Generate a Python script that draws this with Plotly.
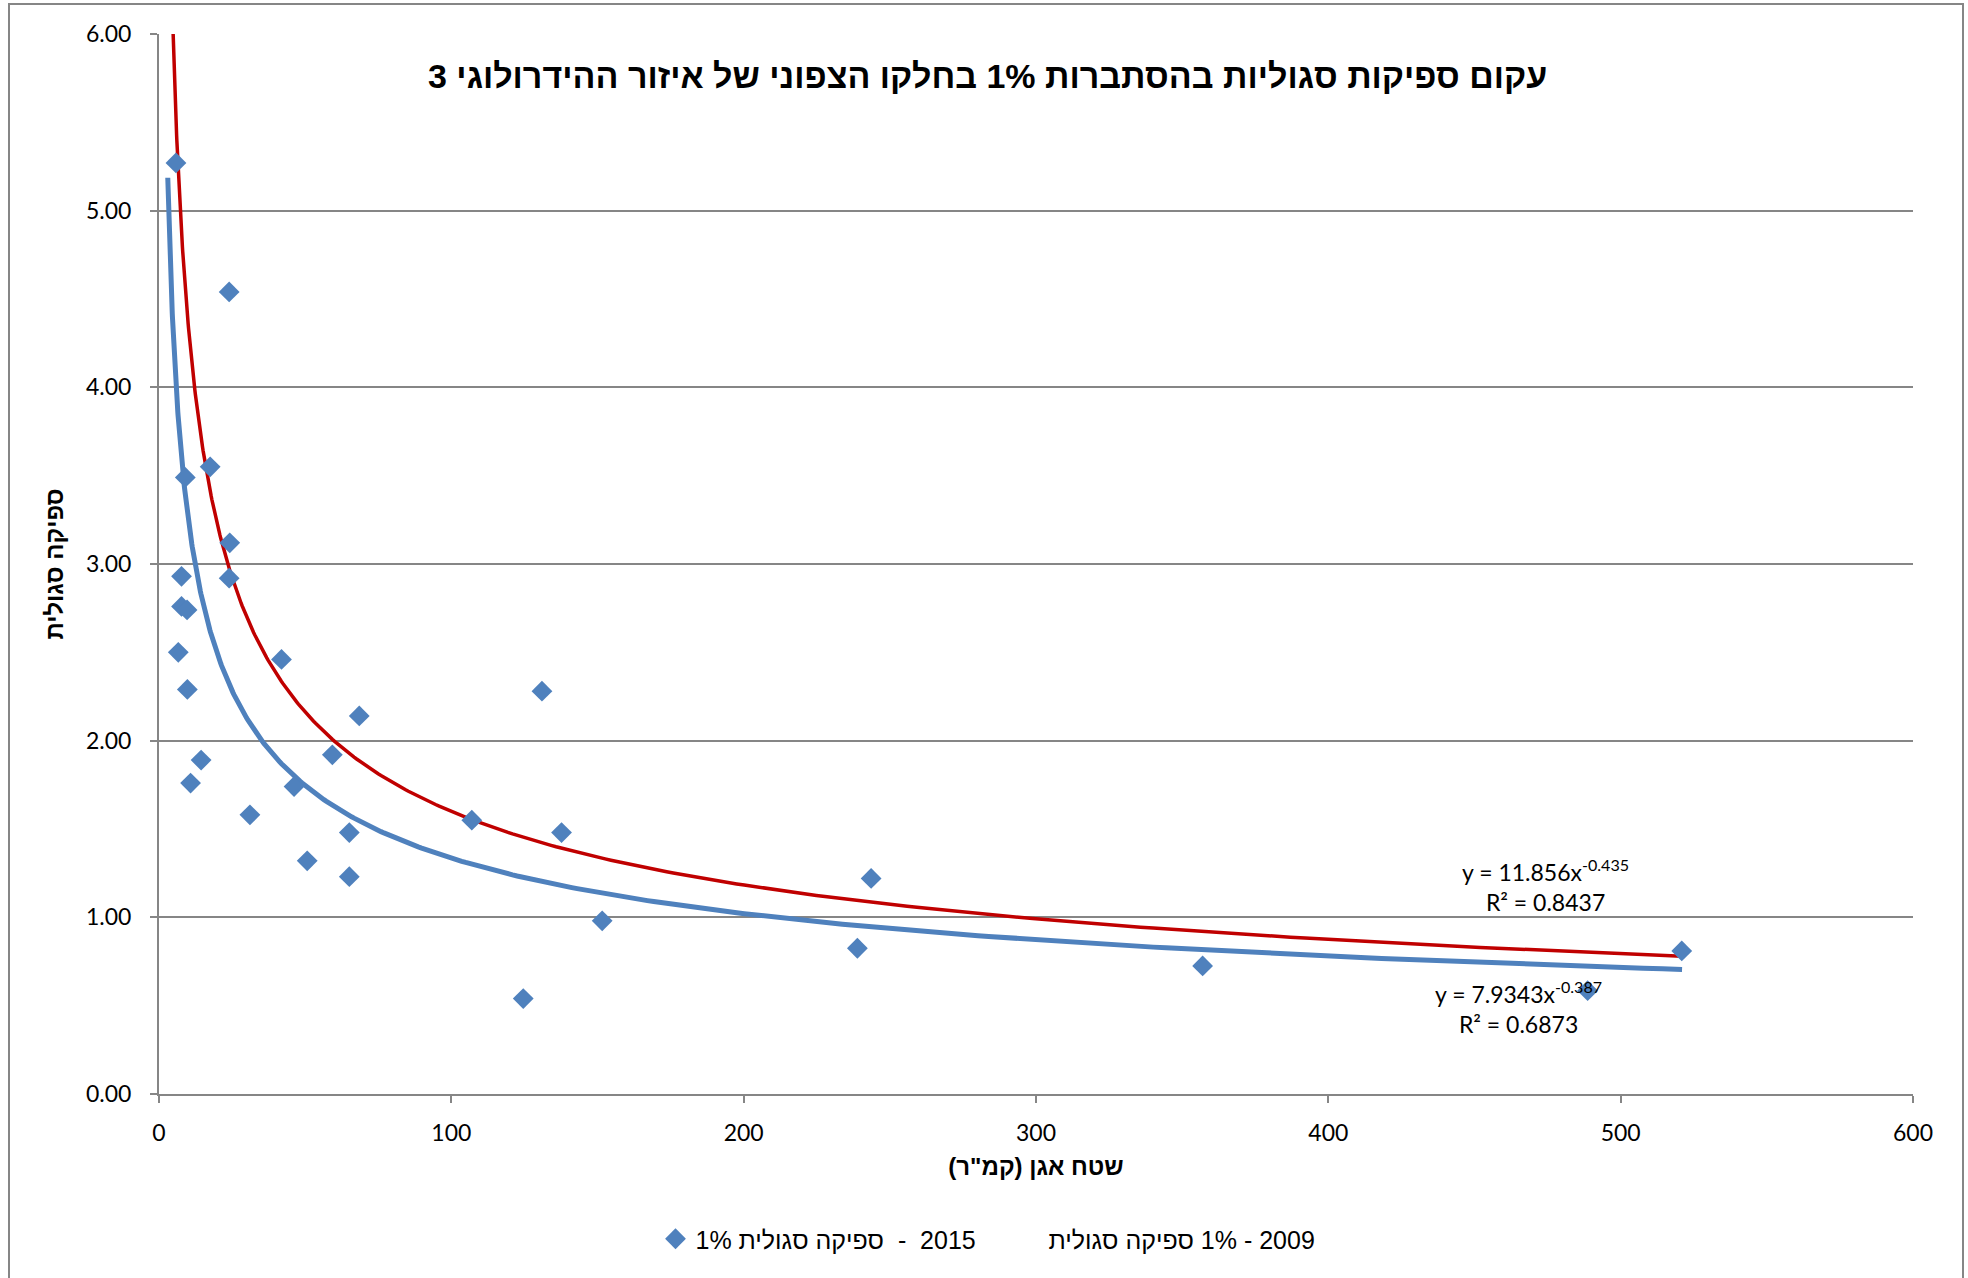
import plotly.graph_objects as go
import numpy as np

# ---- data ----
area_2015 = [5.8, 24.0, 9.0, 17.5, 24.2, 24.0, 7.7, 7.7, 9.6, 6.6, 9.7, 41.9,
             14.4, 10.8, 31.1, 46.2, 59.3, 68.5, 50.7, 65.1, 65.1, 107.0,
             131.0, 137.7, 124.6, 151.6, 243.6, 238.9, 357.0, 488.7, 520.9]
q_2015 = [5.27, 4.54, 3.49, 3.55, 3.12, 2.92, 2.93, 2.76, 2.74, 2.50, 2.29, 2.46,
          1.89, 1.76, 1.58, 1.74, 1.92, 2.14, 1.32, 1.48, 1.23, 1.55,
          2.28, 1.48, 0.54, 0.98, 1.22, 0.825, 0.725, 0.585, 0.81]

# power trendlines y = a * x^b, as printed on the chart
trend_2015 = {"a": 7.9343, "b": -0.387, "r2": 0.6873, "x0": 3.0, "x1": 521.0}
trend_2009 = {"a": 11.856, "b": -0.435, "r2": 0.8437, "x0": 3.0, "x1": 521.0}

name_2015 = "1% ספיקה סגולית\u200e\u00a0\u00a0-\u00a0\u00a02015\u00a0\u00a0\u00a0\u00a0"
name_2009 = "ספיקה סגולית\u200e 1% - 2009"
title_text = "עקום ספיקות סגוליות בהסתברות 1% בחלקו הצפוני של איזור ההידרולוגי 3"
x_title = 'שטח אגן (קמ"ר)\u200f'
y_title = "ספיקה סגולית"

x_ticks = [0, 100, 200, 300, 400, 500, 600]
y_ticks = [0, 1, 2, 3, 4, 5, 6]

BLUE = "#4F81BD"
RED = "#C00000"
GRAY = "#868686"


def trend_curve(t):
    xs = np.geomspace(t["x0"], t["x1"], 400)
    return xs, t["a"] * xs ** t["b"]


fig = go.Figure()

xr, yr = trend_curve(trend_2009)
fig.add_trace(go.Scatter(x=xr, y=yr, mode="lines", line=dict(color=RED, width=3.5),
                         showlegend=False, hoverinfo="skip"))
xb, yb = trend_curve(trend_2015)
fig.add_trace(go.Scatter(x=xb, y=yb, mode="lines", line=dict(color=BLUE, width=5),
                         showlegend=False, hoverinfo="skip"))

fig.add_trace(go.Scatter(x=area_2015, y=q_2015, mode="markers", name=name_2015,
                         marker=dict(symbol="diamond", size=16, color=BLUE,
                                     line=dict(width=0))))
fig.add_trace(go.Scatter(x=[None], y=[None], mode="markers", name=name_2009,
                         marker=dict(symbol="diamond", size=16, color="rgba(0,0,0,0)")))

L, R, T, B = 159, 55, 34, 184
W, H = 1968, 1278
pw, ph = W - L - R, H - T - B


def px(xpix):
    return (xpix - L) / pw


def py(ypix):
    return (T + ph - ypix) / ph


tick_font = dict(family="Lato, 'Open Sans', sans-serif", size=23, color="#000000")

fig.update_layout(
    width=W, height=H,
    margin=dict(l=L, r=R, t=T, b=B),
    paper_bgcolor="white", plot_bgcolor="white",
    showlegend=True,
    legend=dict(orientation="h", x=px(988), y=py(1239), xanchor="center", yanchor="middle",
                font=dict(family="'Liberation Sans', Arial, sans-serif", size=25, color="#000"),
                itemwidth=30, tracegroupgap=0, bgcolor="rgba(0,0,0,0)"),
    xaxis=dict(range=[0, 600], tickvals=x_ticks, ticktext=[str(v) for v in x_ticks],
               showgrid=False, zeroline=False, showline=True, linecolor=GRAY, linewidth=2,
               ticks="outside", ticklen=7, tickcolor=GRAY, tickwidth=2,
               tickfont=tick_font, ticklabelstandoff=10,
               title=dict(text=x_title, standoff=14,
                          font=dict(family="'Liberation Sans', Arial, sans-serif", size=24,
                                    color="#000", weight="bold"))),
    yaxis=dict(range=[0, 6], tickvals=y_ticks, ticktext=["%.2f" % v for v in y_ticks],
               showgrid=True, gridcolor=GRAY, gridwidth=1.5, zeroline=False,
               showline=True, linecolor=GRAY, linewidth=2,
               ticks="outside", ticklen=7, tickcolor=GRAY, tickwidth=2,
               tickfont=tick_font, ticklabelstandoff=14,
               title=dict(text=y_title, standoff=16,
                          font=dict(family="'Liberation Sans', Arial, sans-serif", size=24,
                                    color="#000", weight="bold"))),
)

# chart title
fig.add_annotation(text=title_text, xref="paper", yref="paper", x=px(987), y=py(76),
                   xanchor="center", yanchor="middle", showarrow=False,
                   font=dict(family="'Liberation Sans', Arial, sans-serif", size=34,
                             color="#000", weight="bold"))

# trendline labels
for t, cx, cy in [(trend_2009, 1545, 885), (trend_2015, 1518, 1007)]:
    txt = "y = %sx<sup>%s</sup><br>R² = %s" % (("%g" % t["a"]), ("%g" % t["b"]), ("%g" % t["r2"]))
    fig.add_annotation(text=txt, xref="paper", yref="paper", x=px(cx), y=py(cy),
                       xanchor="center", yanchor="middle", showarrow=False, align="center",
                       font=dict(family="Lato, 'Open Sans', sans-serif", size=23, color="#000"))

# chart outer border
fig.add_shape(type="rect", xref="paper", yref="paper", x0=px(9), x1=px(1963), y0=py(1300), y1=py(4),
              line=dict(color=GRAY, width=2), fillcolor="rgba(0,0,0,0)", layer="below")

fig.write_html("out.html")
